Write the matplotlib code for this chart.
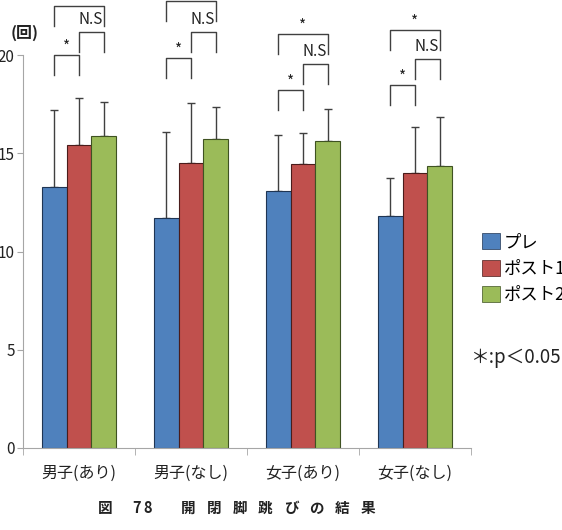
import matplotlib
matplotlib.use("Agg")
import matplotlib.pyplot as plt
from matplotlib.patches import Patch
import numpy as np

plt.rcParams['font.family'] = ['Noto Sans CJK JP', 'DejaVu Sans']

categories = ['男子(あり)', '男子(なし)', '女子(あり)', '女子(なし)']
series = ['プレ', 'ポスト1', 'ポスト2']
pre = [13.3, 11.7, 13.1, 11.8]
post1 = [15.4, 14.5, 14.45, 14.0]
post2 = [15.9, 15.7, 15.6, 14.35]
pre_sd = [3.9, 4.4, 2.85, 1.95]
post1_sd = [2.4, 3.05, 1.6, 2.35]
post2_sd = [1.7, 1.65, 1.65, 2.5]
yticks = [0, 5, 10, 15, 20]

# significance brackets: (group, bar a, bar b, label)
brackets = [(0, 0, 1, '*'), (0, 1, 2, 'N.S'), (0, 0, 2, '*'),
            (1, 0, 1, '*'), (1, 1, 2, 'N.S'), (1, 0, 2, '*'),
            (2, 0, 1, '*'), (2, 1, 2, 'N.S'), (2, 0, 2, '*'),
            (3, 0, 1, '*'), (3, 1, 2, 'N.S'), (3, 0, 2, '*')]
bracket_tops = [20.0, 21.17, 22.49,
                19.85, 21.17, 22.75,
                18.22, 19.54, 21.07,
                18.47, 19.8, 21.27]

colors = ['#4F81BD', '#C0504D', '#9BBB59']
edges = ['#1f3553', '#4a1c1b', '#3f5222']

fig = plt.figure(figsize=(5.62, 5.30), dpi=100)
ax = fig.add_axes([23/562, 82/530, 448/562, 448/530])

w = 0.223
x = np.arange(len(categories))
vals = [pre, post1, post2]
sds = [pre_sd, post1_sd, post2_sd]
for k in range(3):
    xs = x + (k - 1) * w
    ax.bar(xs, vals[k], w, color=colors[k], edgecolor=edges[k], linewidth=0.8,
           zorder=2)
    ax.errorbar(xs, vals[k], yerr=[np.zeros(4), sds[k]], fmt='none',
                ecolor='#404040', elinewidth=1, capsize=3, capthick=1, zorder=1)

ax.set_xlim(-0.5, 3.5)
ax.set_ylim(0, 448/19.65)
ax.set_yticks(yticks)
ax.set_yticklabels([str(t) for t in yticks], fontsize=11, color='#222222')
ax.set_xticks(x)
ax.set_xticklabels(categories, fontsize=11.5, color='#222222')
ax.set_xticks(np.arange(-0.5, 4, 1), minor=True)
ax.tick_params(axis='x', which='major', length=0, pad=12)
ax.tick_params(axis='x', which='minor', length=5, color='#a6a6a6')
ax.tick_params(axis='y', length=4, color='#a6a6a6', pad=2)
for s in ['top', 'right']:
    ax.spines[s].set_visible(False)
ax.spines['left'].set_bounds(0, 20)
ax.spines['left'].set_color('#a6a6a6')
ax.spines['bottom'].set_color('#a6a6a6')

drop = 1.0
for (g, a, b, lab), top in zip(brackets, bracket_tops):
    xa = g + (a - 1) * w
    xb = g + (b - 1) * w
    ax.plot([xa, xa, xb, xb], [top - drop, top, top, top - drop],
            color='#404040', lw=1, clip_on=False, zorder=3)
    if lab == '*':
        ax.text((xa + xb) / 2, top + 0.4, '*', ha='center', va='center',
                fontsize=11, color='#222222', clip_on=False)
    else:
        ax.text(xb - 0.01, top + 0.2, lab, ha='right', va='bottom',
                fontsize=11, color='#222222', clip_on=False)

fig.text(25/562, 1 - 33/530, '(回)', fontsize=11.5, fontweight='bold',
         ha='center', va='center', color='#222222')

handles = [Patch(facecolor=colors[k], edgecolor=edges[k], linewidth=0.5)
           for k in range(3)]
fig.legend(handles, series, loc='upper left',
           bbox_to_anchor=(482/562, 1 - 233/530), frameon=False, fontsize=12.5,
           handlelength=1.05, handleheight=1.05, handletextpad=0.2,
           labelspacing=0.5, borderpad=0, borderaxespad=0)
fig.text(470/562, 1 - 357/530, '＊:p＜0.05', fontsize=13.5, ha='left',
         va='center', color='#222222')

# caption, spaced out like the original
cap_chars = ['図', '7', '8', '開', '閉', '脚', '跳', 'び', 'の', '結', '果']
cap_x = [105.5, 137, 148] + [188.5 + 25.6 * i for i in range(8)]
for ch, cx in zip(cap_chars, cap_x):
    fig.text(cx/562, 1 - 508/530, ch, fontsize=10.5, fontweight='bold',
             ha='center', va='center', color='#222222')

fig.savefig('out.png', dpi=100)
